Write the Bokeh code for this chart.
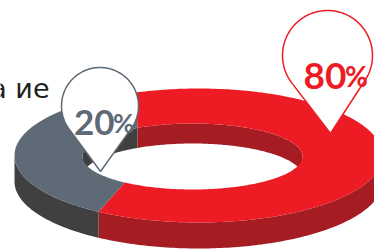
import numpy as np
from bokeh.plotting import figure
from bokeh.models import Range1d, ColumnDataSource
from bokeh.core.properties import value
from bokeh.embed import file_html
from bokeh.resources import INLINE

# ---- data ----
labels = ["80%", "20%"]
numbers = ["80", "20"]
values = [80, 20]
top_colors = ["#ED1C24", "#5E6A75"]
side_colors = ["#A51C22", "#404040"]
text_colors = ["#ED1C24", "#5E6A75"]
caption = "а ие"

# ---- style / layout constants (reference pixel space, y downwards) ----
OCX, OCY, ORX, ORY = 198.0, 155.0, 184.0, 67.0
ICX, ICY, IRX, IRY = 192.0, 156.0, 110.0, 33.0
ODEPTH, IDEPTH = 26.0, 20.0
START = 209.5                      # value-angle where the first slice starts
O_WARP_A, O_WARP_C, O_ROT = 47.0, 173.5, 0.0   # perspective-like warp, outer rim
I_WARP_A, I_WARP_C, I_ROT = 34.0, 173.5, 2.5   # perspective-like warp, inner rim

pin_centers = [(327.0, 55.0), (99.5, 105.5)]
pin_radii = [45.0, 38.5]
pin_tips = [(330.0, 133.0), (100.0, 171.0)]
num_pos = [(346.0, 75.0), (114.0, 122.0)]
num_sizes = ["37px", "35px"]
pct_sizes = ["28px", "26px"]

W, H = 374, 249


def warp_o(phi):
    return phi + O_ROT + O_WARP_A * np.sin(np.radians(phi - O_WARP_C))


def warp_i(phi):
    return phi + I_ROT + I_WARP_A * np.sin(np.radians(phi - I_WARP_C))


def ell(cx, cy, rx, ry, th, dy=0.0):
    t = np.radians(th)
    return cx + rx * np.cos(t), cy - ry * np.sin(t) + dy


def clip(a, b, w0, w1):
    out = []
    for k in range(-2, 3):
        lo, hi = max(a, w0 + 360 * k), min(b, w1 + 360 * k)
        if hi > lo:
            out.append((lo, hi))
    return out


def samp(lo, hi):
    return np.linspace(lo, hi, max(2, int(abs(hi - lo)) + 2))


total = float(sum(values))
spans = []
acc = START
for v in values:
    a = acc
    b = acc + 360.0 * v / total
    spans.append((a, b))
    acc = b

side = dict(xs=[], ys=[], c=[])
inner = dict(xs=[], ys=[], c=[])
top = dict(xs=[], ys=[], c=[])
for (a, b), tc, sc in zip(spans, top_colors, side_colors):
    oa, ob = warp_o(a), warp_o(b)
    ia, ib = warp_i(a), warp_i(b)
    for lo, hi in clip(oa, ob, 180, 360):
        t = samp(lo, hi)
        x1, y1 = ell(OCX, OCY, ORX, ORY, t)
        x2, y2 = ell(OCX, OCY, ORX, ORY, t[::-1], ODEPTH)
        side["xs"].append(list(np.r_[x1, x2])); side["ys"].append(list(np.r_[y1, y2])); side["c"].append(sc)
    for lo, hi in clip(ia, ib, 0, 180):
        t = samp(lo, hi)
        x1, y1 = ell(ICX, ICY, IRX, IRY, t)
        x2, y2 = ell(ICX, ICY, IRX, IRY, t[::-1], IDEPTH)
        inner["xs"].append(list(np.r_[x1, x2])); inner["ys"].append(list(np.r_[y1, y2])); inner["c"].append(sc)
    to = samp(oa, ob)
    ti = samp(ia, ib)
    x1, y1 = ell(OCX, OCY, ORX, ORY, to)
    x2, y2 = ell(ICX, ICY, IRX, IRY, ti[::-1])
    top["xs"].append(list(np.r_[x1, x2])); top["ys"].append(list(np.r_[y1, y2])); top["c"].append(tc)

p = figure(width=W, height=H, x_range=Range1d(0, W), y_range=Range1d(H, 0),
           output_backend="svg", toolbar_location=None, min_border=0,
           x_axis_type=None, y_axis_type=None)
p.grid.visible = False
p.outline_line_color = None
p.background_fill_color = "white"
p.border_fill_color = "white"

for d in (side, inner, top):
    p.patches("xs", "ys", source=ColumnDataSource(d), fill_color="c", line_color=None)

# caption text (cut by the left edge, as in the reference)
p.text(x=[49], y=[87.5], text=[caption], text_align="right", text_baseline="alphabetic",
       text_font=value("DejaVu Sans"), text_font_size="27px", text_color="#231F20")

# pins
for i in range(len(values)):
    cx, cy = pin_centers[i]
    r = pin_radii[i]
    tx, ty = pin_tips[i]
    dx, dy = tx - cx, ty - cy
    dist = np.hypot(dx, dy)
    phi_t = np.arctan2(dy, dx)
    alpha = np.arccos(r / dist)
    ang = np.linspace(phi_t + alpha, phi_t + 2 * np.pi - alpha, 120)
    px = np.r_[tx, cx + r * np.cos(ang), tx]
    py = np.r_[ty, cy + r * np.sin(ang), ty]
    p.patch(list(px), list(py), fill_color="white", line_color=text_colors[i], line_width=1.5)
    nx, ny = num_pos[i]
    p.text(x=[nx], y=[ny], text=[numbers[i]], text_align="right", text_baseline="alphabetic",
           text_font=value("Lato"), text_font_style="bold", text_font_size=num_sizes[i],
           text_color=text_colors[i])
    p.text(x=[nx - 1.5], y=[ny], text=[labels[i][len(numbers[i]):]], text_align="left",
           text_baseline="alphabetic", text_font=value("Lato"), text_font_style="bold",
           text_font_size=pct_sizes[i], text_color=text_colors[i])

open("out.html", "w").write(file_html(p, INLINE))
